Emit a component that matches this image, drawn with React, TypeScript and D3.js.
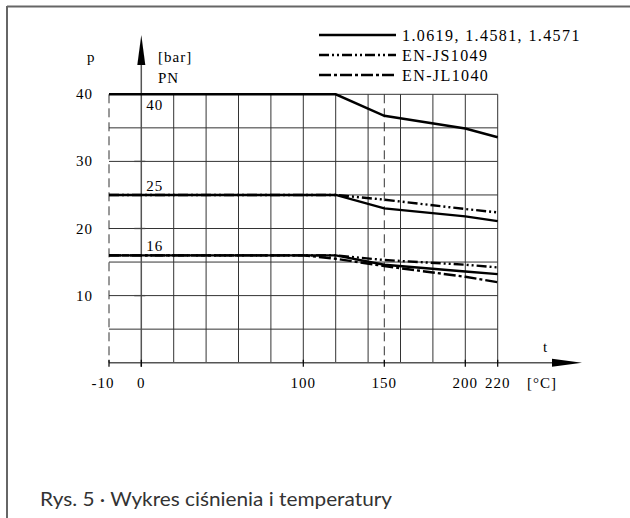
import React from "react";
import * as d3 from "d3";

// pressure [bar] vs temperature [°C]
const gridT = [-10, 0, 20, 40, 60, 80, 100, 120, 140, 150, 160, 180, 200, 220];
const dashedT = [-10, 150];
const tickT = [-10, 0, 100, 150, 200, 220];
const gridP = [5, 10, 15, 20, 25, 30, 35, 40];
const tickP = [10, 20, 30, 40];
const pnLabels = [40, 25, 16];

const steelT = [-10, 120, 150, 200, 220];
const steel40 = [40, 40, 36.8, 34.9, 33.6];
const steel25 = [25, 25, 23, 21.8, 21.1];
const steel16 = [16, 16, 14.6, 13.6, 13.2];

const jsT = [-10, 120, 150, 200, 220];
const js25 = [25, 25, 24.3, 22.9, 22.4];
const js16 = [16, 16, 15.3, 14.6, 14.2];

const jlT = [-10, 100, 120, 150, 200, 220];
const jl16 = [16, 16, 15.5, 14.4, 12.8, 12];

const legendNames = ["1.0619, 1.4581, 1.4571", "EN-JS1049", "EN-JL1040"];
const dashes = [null, "10,3,2,3,2,3", "12,3,3,3"];

const serif = '"Liberation Serif", "DejaVu Serif", serif';

export default function App() {
  const x = d3.scaleLinear().domain([-10, 0, 220]).range([109, 141.3, 497.7]);
  const y = d3.scaleLinear().domain([0, 40]).range([362.7, 94.3]);

  const line = d3
    .line<[number, number]>()
    .x((d) => x(d[0]))
    .y((d) => y(d[1]));

  const series = [
    { t: steelT, p: steel40, k: 0 },
    { t: steelT, p: steel25, k: 0 },
    { t: steelT, p: steel16, k: 0 },
    { t: jsT, p: js25, k: 1 },
    { t: jsT, p: js16, k: 1 },
    { t: jlT, p: jl16, k: 2 },
  ];

  const x0 = x(0);
  const yBase = y(0);
  const gridColor = "#333";

  return (
    <svg
      width={630}
      height={518}
      style={{ position: "absolute", left: 0, top: 0, background: "#fff" }}
    >
      {/* frame */}
      <line x1={7} x2={630} y1={6.5} y2={6.5} stroke="#666" strokeWidth={2} />
      <line x1={7} x2={7} y1={6} y2={518} stroke="#666" strokeWidth={2} />

      {/* grid */}
      {gridP.map((p) => (
        <line key={"h" + p} x1={x(-10)} x2={x(220)} y1={y(p)} y2={y(p)} stroke={gridColor} strokeWidth={1} />
      ))}
      {gridT.map((t) =>
        t === 0 ? null : (
          <line
            key={"v" + t}
            x1={x(t)}
            x2={x(t)}
            y1={y(40)}
            y2={yBase}
            stroke={gridColor}
            strokeWidth={1}
            strokeDasharray={dashedT.includes(t) ? "9,5" : undefined}
          />
        )
      )}

      {/* axes */}
      <line x1={x(-10)} x2={560} y1={yBase} y2={yBase} stroke="#555" strokeWidth={1.5} />
      <path d={`M552,${yBase - 4}L582,${yBase}L552,${yBase + 4}Z`} fill="#000" />
      <line x1={x0} x2={x0} y1={yBase + 4} y2={50} stroke="#555" strokeWidth={1.5} />
      <path d={`M${x0 - 4},65L${x0},35L${x0 + 4},65Z`} fill="#000" />
      {tickP.slice(0, 3).map((p) => (
        <line key={"yt" + p} x1={x0 - 7} x2={x0 + 4} y1={y(p)} y2={y(p)} stroke="#444" strokeWidth={1.3} />
      ))}
      {tickT.map((t) => (
        <line key={"xt" + t} x1={x(t)} x2={x(t)} y1={yBase - 3} y2={yBase + 4} stroke="#000" strokeWidth={1.2} />
      ))}

      {/* data */}
      {series.map((s, i) => (
        <path
          key={"s" + i}
          d={line(s.t.map((t, j) => [t, s.p[j]] as [number, number])) || ""}
          fill="none"
          stroke="#000"
          strokeWidth={2.4}
          strokeDasharray={dashes[s.k] || undefined}
        />
      ))}

      {/* labels */}
      <g fontFamily={serif} fontSize={15} fill="#000" letterSpacing={1}>
        {tickP.map((p) => (
          <text key={"yl" + p} x={93} y={y(p) + 5} textAnchor="end">
            {p}
          </text>
        ))}
        {tickT.map((t) => (
          <text key={"xl" + t} x={x(t) - (t === -10 ? 6 : 0)} y={388} textAnchor="middle">
            {t}
          </text>
        ))}
        <text x={527} y={388}>[°C]</text>
        <text x={543} y={352}>t</text>
        <text x={87} y={62}>p</text>
        <text x={158} y={62}>[bar]</text>
        <text x={158} y={83}>PN</text>
        {pnLabels.map((pn, i) => (
          <text key={"pn" + pn} x={x0 + 5} y={i === 0 ? y(pn) + 16 : y(pn) - 4}>
            {pn}
          </text>
        ))}
        {legendNames.map((n, i) => (
          <g key={"lg" + i}>
            <line x1={319} x2={396} y1={35 + i * 20} y2={35 + i * 20} stroke="#000" strokeWidth={2.4} strokeDasharray={dashes[i] || undefined} />
            <text x={402} y={41 + i * 20} fontSize={16} letterSpacing={1.4}>{n}</text>
          </g>
        ))}
      </g>

      <text
        x={40}
        y={506}
        fontFamily='Lato, "Noto Sans", sans-serif'
        fontSize={19}
        fill="#333"
        textLength={352}
        lengthAdjust="spacingAndGlyphs"
      >
        Rys. 5 · Wykres ciśnienia i temperatury
      </text>
    </svg>
  );
}
